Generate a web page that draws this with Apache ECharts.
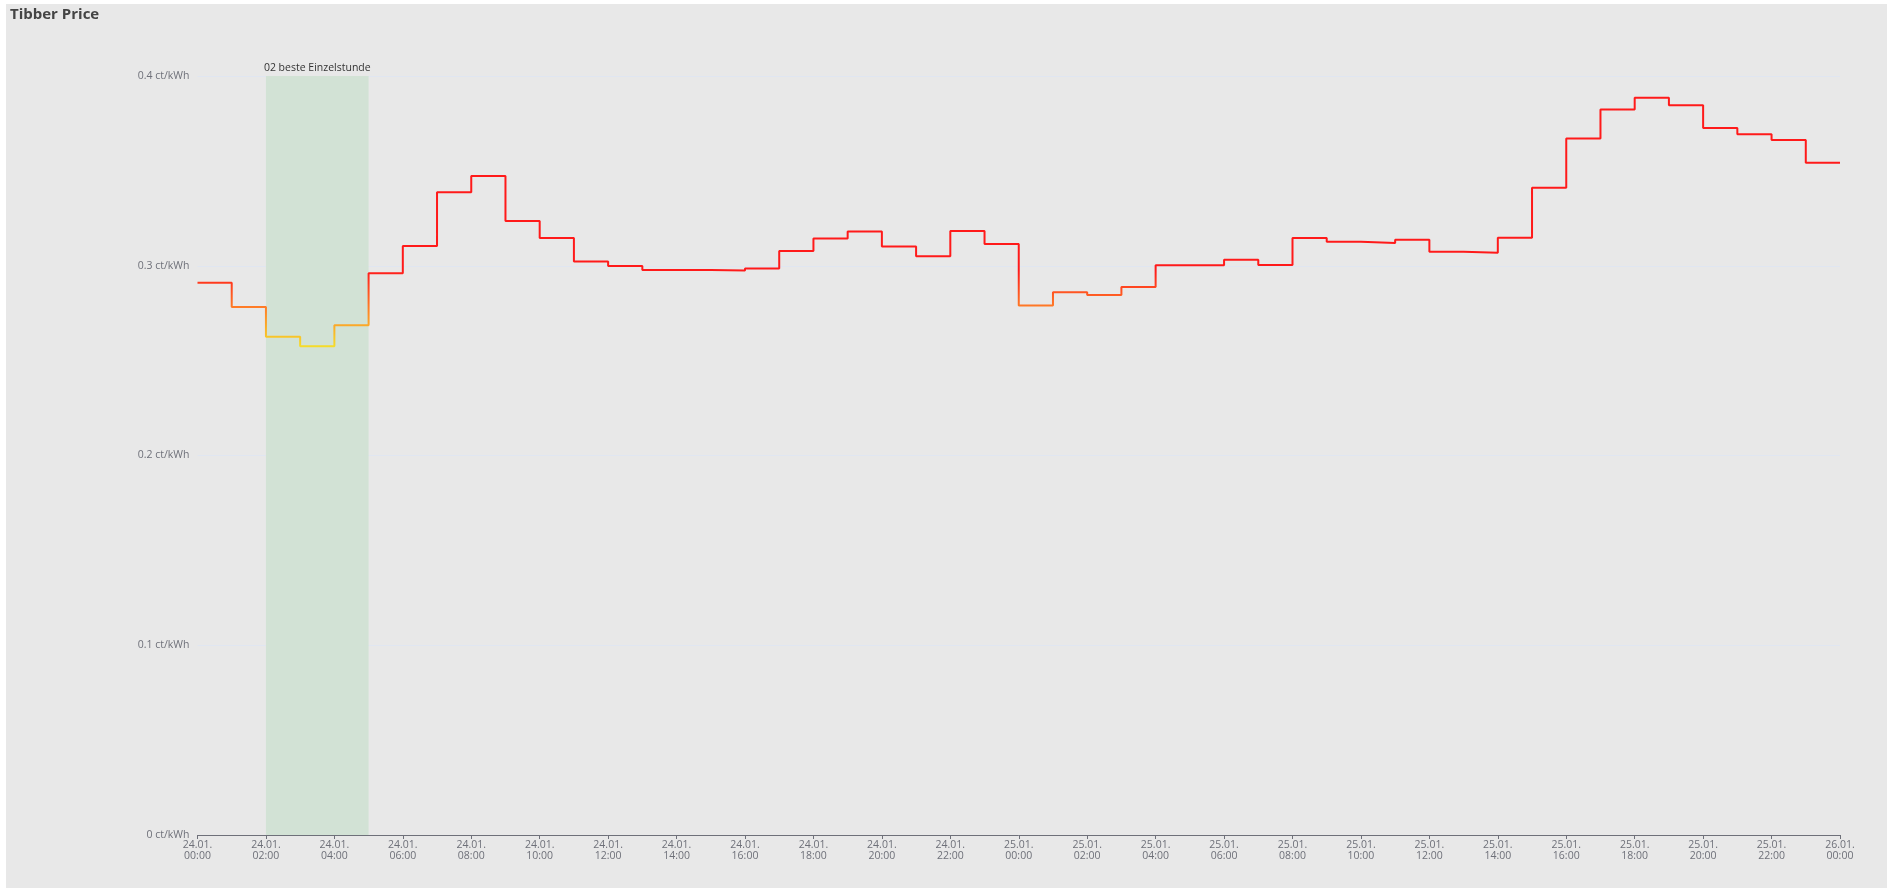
<!DOCTYPE html>
<html>
<head>
<meta charset="utf-8">
<script src="https://cdn.jsdelivr.net/npm/echarts@6/dist/echarts.min.js"></script>
<style>
html, body { margin: 0; padding: 0; background: #ffffff; width: 1887px; height: 888px; overflow: hidden; }
#chart { position: absolute; left: 6px; top: 4px; width: 1881px; height: 884px; background: #e8e8e8; }
</style>
</head>
<body>
<div id="chart"></div>
<script>
// Hourly prices (ct/kWh), 24.01. 00:00 to 25.01. 23:00
const hours = [
  0,1,2,3,4,5,6,7,8,9,10,11,12,13,14,15,16,17,18,19,20,21,22,23,
  24,25,26,27,28,29,30,31,32,33,34,35,36,37,38,39,40,41,42,43,44,45,46,47
];
const prices = [
  0.2911, 0.2783, 0.2626, 0.2576, 0.2686, 0.2960, 0.3104, 0.3387,
  0.3473, 0.3236, 0.3146, 0.3022, 0.2999, 0.2978, 0.2977, 0.2975,
  0.2986, 0.3078, 0.3143, 0.3181, 0.3101, 0.3050, 0.3183, 0.3115,
  0.2791, 0.2861, 0.2846, 0.2888, 0.3002, 0.3002, 0.3032, 0.3004,
  0.3146, 0.3127, 0.3120, 0.3137, 0.3074, 0.3069, 0.3148, 0.3411,
  0.3671, 0.3824, 0.3886, 0.3846, 0.3726, 0.3693, 0.3663, 0.3543
];
const endHour = 48;
const xTickLabels = [
  '24.01.\n00:00','24.01.\n02:00','24.01.\n04:00','24.01.\n06:00','24.01.\n08:00','24.01.\n10:00',
  '24.01.\n12:00','24.01.\n14:00','24.01.\n16:00','24.01.\n18:00','24.01.\n20:00','24.01.\n22:00',
  '25.01.\n00:00','25.01.\n02:00','25.01.\n04:00','25.01.\n06:00','25.01.\n08:00','25.01.\n10:00',
  '25.01.\n12:00','25.01.\n14:00','25.01.\n16:00','25.01.\n18:00','25.01.\n20:00','25.01.\n22:00',
  '26.01.\n00:00'
];
const bestLabel = '02 beste Einzelstunde';
const bestStart = 2;
const bestEnd = 5;

const seriesData = hours.map((h, i) => [h, prices[i]]);
seriesData.push([endHour, prices[prices.length - 1]]);

const font = "'Open Sans', 'Noto Sans', sans-serif";
const chart = echarts.init(document.getElementById('chart'), null, { renderer: 'canvas' });
chart.setOption({
  backgroundColor: '#e8e8e8',
  animation: false,
  textStyle: { fontFamily: font },
  title: {
    text: 'Tibber Price',
    left: 4, top: 3, padding: 0,
    textStyle: { fontSize: 15, fontWeight: 'bold', color: '#444444', fontFamily: font }
  },
  grid: { left: 191.5, right: 47, top: 72, bottom: 53, containLabel: false },
  visualMap: {
    show: false,
    type: 'continuous',
    dimension: 1,
    seriesIndex: 0,
    min: 0.2576,
    max: 0.2975,
    inRange: { color: ['#f5dc2a', '#ff7f27', '#ff1a1a'] }
  },
  xAxis: {
    type: 'value',
    min: 0, max: endHour, interval: 2,
    axisLine: { show: true, lineStyle: { color: '#6e7079' } },
    axisTick: { show: true, length: 4, lineStyle: { color: '#6e7079' } },
    splitLine: { show: false },
    axisLabel: {
      margin: 5,
      color: '#6e7079',
      fontSize: 10.5,
      lineHeight: 11,
      fontFamily: font,
      formatter: v => xTickLabels[Math.round(v / 2)] || ''
    }
  },
  yAxis: {
    type: 'value',
    min: 0, max: 0.4, interval: 0.1,
    axisLine: { show: false },
    axisTick: { show: false },
    splitLine: { show: true, lineStyle: { color: '#e0e6f1' } },
    axisLabel: {
      margin: 8,
      color: '#6e7079',
      fontSize: 10.5,
      fontFamily: font,
      formatter: v => (Math.round(v * 10) / 10) + ' ct/kWh'
    }
  },
  series: [{
    type: 'line',
    step: 'end',
    data: seriesData,
    showSymbol: false,
    symbol: 'none',
    lineStyle: { width: 2 },
    markArea: {
      silent: true,
      itemStyle: { color: '#d2e2d5' },
      label: {
        show: true,
        position: 'top',
        color: '#333333',
        fontSize: 10.5,
        fontFamily: font,
        distance: 2
      },
      data: [[
        { name: bestLabel, xAxis: bestStart, yAxis: 0.4 },
        { xAxis: bestEnd, yAxis: 0 }
      ]]
    }
  }]
});
</script>
</body>
</html>
